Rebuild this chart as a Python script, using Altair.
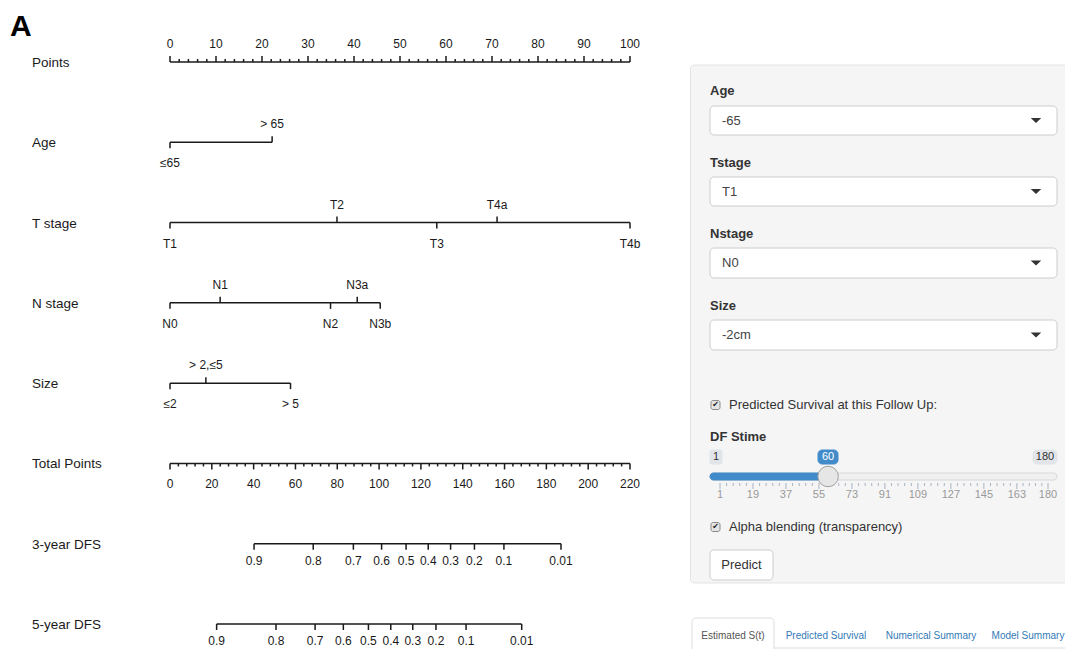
import altair as alt
import pandas as pd

# ---------------- nomogram data ----------------
row_names = ["Points", "Age", "T stage", "N stage", "Size", "Total Points", "3-year DFS", "5-year DFS"]

points_labels = [0, 10, 20, 30, 40, 50, 60, 70, 80, 90, 100]

age_levels = ["≤65", "> 65"]
age_points = [0, 22.2]
t_levels = ["T1", "T2", "T3", "T4a", "T4b"]
t_points = [0, 36.3, 58.0, 71.1, 100]
n_levels = ["N0", "N1", "N2", "N3a", "N3b"]
n_points = [0, 10.9, 34.9, 40.7, 45.7]
size_levels = ["≤2", "> 2,≤5", "> 5"]
size_points = [0, 7.8, 26.2]

total_labels = [0, 20, 40, 60, 80, 100, 120, 140, 160, 180, 200, 220]
total_max = 220

dfs_labels = ["0.9", "0.8", "0.7", "0.6", "0.5", "0.4", "0.3", "0.2", "0.1", "0.01"]
dfs3_total = [40.2, 68.5, 87.7, 101.2, 112.9, 123.5, 134.2, 145.6, 159.7, 187.0]
dfs5_total = [22.3, 50.7, 69.4, 82.9, 94.9, 105.6, 116.1, 127.2, 141.6, 168.2]

# ---------------- UI panel content ----------------
select_labels = ["Age", "Tstage", "Nstage", "Size"]
select_values = ["-65", "T1", "N0", "-2cm"]
checkbox_labels = ["Predicted Survival at this Follow Up:", "Alpha blending (transparency)"]
slider_title = "DF Stime"
slider_min, slider_max, slider_value = 1, 180, 60
slider_grid = [1, 19, 37, 55, 73, 91, 109, 127, 145, 163, 180]
button_label = "Predict"
tab_labels = ["Estimated S(t)", "Predicted Survival", "Numerical Summary", "Model Summary"]
tab_colors = ["#555555", "#337ab7", "#337ab7", "#337ab7"]

FONT = "Liberation Sans"
INK = "#1a1a1a"

# ---------------- build nomogram tables ----------------
lines, ticks, labels = [], [], []

# Points axis (row 0)
lines.append(dict(row=0, x=0, x2=100))
for v in range(0, 101, 2):
    ticks.append(dict(row=0, x=v, side="above", major=(v % 10 == 0)))
for v in points_labels:
    labels.append(dict(row=0, x=v, text=str(v), side="above"))

def add_categorical(row, levels, pts):
    lines.append(dict(row=row, x=min(pts), x2=max(pts)))
    for i, (lv, p) in enumerate(zip(levels, pts)):
        side = "below" if i % 2 == 0 else "above"
        ticks.append(dict(row=row, x=p, side=side, major=True))
        labels.append(dict(row=row, x=p, text=lv, side=side))

add_categorical(1, age_levels, age_points)
add_categorical(2, t_levels, t_points)
add_categorical(3, n_levels, n_points)
add_categorical(4, size_levels, size_points)

# Total points (row 5) mapped onto the 0-100 points scale
k = 100.0 / total_max
lines.append(dict(row=5, x=0, x2=100))
for v in range(0, total_max + 1, 4):
    ticks.append(dict(row=5, x=v * k, side="below", major=(v % 20 == 0)))
for v in total_labels:
    labels.append(dict(row=5, x=v * k, text=str(v), side="below"))

def add_prob(row, labs, tots):
    xs = [t * k for t in tots]
    lines.append(dict(row=row, x=min(xs), x2=max(xs)))
    for lab, x in zip(labs, xs):
        ticks.append(dict(row=row, x=x, side="below", major=True))
        labels.append(dict(row=row, x=x, text=lab, side="prob"))

add_prob(6, dfs_labels, dfs3_total)
add_prob(7, dfs_labels, dfs5_total)

lines_df = pd.DataFrame(lines)
ticks_df = pd.DataFrame(ticks)
labels_df = pd.DataFrame(labels)
rows_df = pd.DataFrame(dict(row=list(range(len(row_names))), name=row_names))

# ---------------- scales ----------------
XN = alt.Scale(domain=[0, 100], range=[162, 622], nice=False, zero=False)
YR = alt.Scale(domain=[0, 7], range=[54, 616], nice=False, zero=False)
XP = alt.Scale(domain=[8, 1065], range=[0, 1057], nice=False, zero=False)
YP = alt.Scale(domain=[8, 649], range=[0, 641], nice=False, zero=False)
XS = alt.Scale(domain=[slider_min, slider_max], range=[712, 1040], nice=False, zero=False)

def xn(f="x"):
    return alt.X(f"{f}:Q", scale=XN, axis=None)

def yr(f="row"):
    return alt.Y(f"{f}:Q", scale=YR, axis=None)

def xp(f="x"):
    return alt.X(f"{f}:Q", scale=XP, axis=None)

def yp(f="y"):
    return alt.Y(f"{f}:Q", scale=YP, axis=None)

def xs(f="v"):
    return alt.X(f"{f}:Q", scale=XS, axis=None)

layers = []

# nomogram axis lines
layers.append(alt.Chart(lines_df).mark_rule(color=INK, strokeWidth=1.5).encode(
    x=xn("x"), x2="x2", y=yr("row")))

# ticks
for side, major, off in [("above", True, -6), ("above", False, -3), ("below", True, 6), ("below", False, 3)]:
    layers.append(alt.Chart(ticks_df).transform_filter(
        f"datum.side == '{side}' && datum.major == {'true' if major else 'false'}"
    ).mark_rule(color=INK, strokeWidth=1.5, y2Offset=off).encode(
        x=xn("x"), y=yr("row"), y2="row"))

# tick labels
for side, dy in [("above", -18), ("below", 21), ("prob", 17)]:
    layers.append(alt.Chart(labels_df).transform_filter(f"datum.side == '{side}'").mark_text(
        font=FONT, fontSize=12, color=INK, dy=dy, baseline="middle", align="center").encode(
        x=xn("x"), y=yr("row"), text="text:N"))

# row names
layers.append(alt.Chart(rows_df).mark_text(
    font=FONT, fontSize=13.5, color=INK, align="left", baseline="middle", dy=1).encode(
    x=alt.value(24), y=yr("row"), text="name:N"))

# panel letter
layers.append(alt.Chart(pd.DataFrame(dict(t=["A"]))).mark_text(
    font=FONT, fontSize=30, fontWeight="bold", color="#000", align="left", baseline="alphabetic").encode(
    x=alt.value(2), y=alt.value(28), text="t:N"))

# ---------------- UI panel layout (page pixel coordinates) ----------------
sel_label_y = [91, 163, 234, 306]
sel_box_y = [(106, 135), (177, 206), (248, 278), (320, 350)]
check_y = [405, 527]

rects = [dict(x=690.5, x2=1090, y=65, y2=583, fill="#f5f5f5", stroke="#e3e3e3")]
for (a, b) in sel_box_y:
    rects.append(dict(x=710, x2=1057, y=a, y2=b, fill="#ffffff", stroke="#cccccc"))
rects += [
    dict(x=1033, x2=1057, y=450, y2=464, fill="#e1e4e9", stroke="#e1e4e9"),
    dict(x=818, x2=838, y=450, y2=464, fill="#428bca", stroke="#428bca"),
    dict(x=710, x2=1057, y=473, y2=480, fill="#f0f0f0", stroke="#d8d8d8"),
    dict(x=710, x2=828, y=473, y2=480, fill="#428bca", stroke="#428bca"),
    dict(x=710, x2=773, y=550, y2=580, fill="#ffffff", stroke="#cccccc"),
    dict(x=692, x2=774, y=618, y2=665, fill="#ffffff", stroke="#dddddd"),
]
rects_df = pd.DataFrame(rects)

layers.append(alt.Chart(rects_df).mark_rect(cornerRadius=4, strokeWidth=1, clip=True).encode(
    x=xp("x"), x2="x2", y=yp("y"), y2="y2",
    fill=alt.Fill("fill:N", scale=None), stroke=alt.Stroke("stroke:N", scale=None)))

# small boxes: slider min label box and checkboxes
small_rects = [dict(x=710, x2=722, y=450, y2=464, fill="#e1e4e9", stroke="#e1e4e9")]
for cy in check_y:
    small_rects.append(dict(x=711, x2=720, y=cy - 4.5, y2=cy + 4.5, fill="#e4e4e4", stroke="#8a8a8a"))
layers.append(alt.Chart(pd.DataFrame(small_rects)).mark_rect(cornerRadius=2, strokeWidth=1).encode(
    x=xp("x"), x2="x2", y=yp("y"), y2="y2",
    fill=alt.Fill("fill:N", scale=None), stroke=alt.Stroke("stroke:N", scale=None)))

# tab bar bottom line
layers.append(alt.Chart(pd.DataFrame(dict(x=[774], x2=[1065], y=[648]))).mark_rule(
    color="#dddddd", strokeWidth=1).encode(x=xp("x"), x2="x2", y=yp("y")))

# bold labels
bold_df = pd.DataFrame(dict(x=[710] * 5, y=sel_label_y + [437], t=select_labels + [slider_title]))
layers.append(alt.Chart(bold_df).mark_text(
    font=FONT, fontSize=13, fontWeight="bold", color="#333333", align="left", baseline="middle").encode(
    x=xp("x"), y=yp("y"), text="t:N"))

# select values
val_df = pd.DataFrame(dict(x=[722] * 4, y=[(a + b) / 2 for a, b in sel_box_y], t=select_values))
layers.append(alt.Chart(val_df).mark_text(
    font=FONT, fontSize=13, color="#444444", align="left", baseline="middle").encode(
    x=xp("x"), y=yp("y"), text="t:N"))

# carets
caret_df = pd.DataFrame(dict(x=[1036] * 4, y=[(a + b) / 2 for a, b in sel_box_y]))
layers.append(alt.Chart(caret_df).mark_point(
    shape="M-1,-0.5L1,-0.5L0,0.5Z", filled=True, size=110, color="#333333", opacity=1).encode(
    x=xp("x"), y=yp("y")))

# checkbox labels and check marks
cb_df = pd.DataFrame(dict(x=[729, 729], y=check_y, t=checkbox_labels))
layers.append(alt.Chart(cb_df).mark_text(
    font=FONT, fontSize=13, color="#333333", align="left", baseline="middle").encode(
    x=xp("x"), y=yp("y"), text="t:N"))
chk_df = pd.DataFrame(dict(x=[715.5, 715.5], y=check_y, t=["✔", "✔"]))
layers.append(alt.Chart(chk_df).mark_text(
    font="DejaVu Sans", fontSize=8, color="#222222", align="center", baseline="middle").encode(
    x=xp("x"), y=yp("y"), text="t:N"))

# slider min / max / value boxes text
sl_df = pd.DataFrame(dict(x=[716, 1045, 828], y=[457, 457, 457],
                          t=[str(slider_min), str(slider_max), str(slider_value)],
                          c=["#333333", "#333333", "#ffffff"]))
layers.append(alt.Chart(sl_df).mark_text(
    font=FONT, fontSize=11, align="center", baseline="middle").encode(
    x=xp("x"), y=yp("y"), text="t:N", color=alt.Color("c:N", scale=None)))

# slider grid ticks
grid_major = pd.DataFrame(dict(v=slider_grid, y=[483] * len(slider_grid), y2=[489] * len(slider_grid)))
minor_vals = []
for a, b in zip(slider_grid[:-1], slider_grid[1:]):
    for j in range(1, 5):
        minor_vals.append(a + (b - a) * j / 5)
grid_minor = pd.DataFrame(dict(v=minor_vals, y=[483] * len(minor_vals), y2=[486] * len(minor_vals)))
for gdf in (grid_major, grid_minor):
    layers.append(alt.Chart(gdf).mark_rule(color="#a8b4c4", strokeWidth=1).encode(
        x=xs("v"), y=yp("y"), y2="y2"))
grid_lab = pd.DataFrame(dict(v=slider_grid, y=[495] * len(slider_grid), t=[str(g) for g in slider_grid]))
layers.append(alt.Chart(grid_lab).mark_text(
    font=FONT, fontSize=11, color="#999999", align="center", baseline="middle").encode(
    x=xs("v"), y=yp("y"), text="t:N"))

# slider handle
handle_df = pd.DataFrame(dict(v=[slider_value], y=[476.5]))
layers.append(alt.Chart(handle_df).mark_point(
    shape="circle", filled=True, size=420, fill="#e6e6e6", stroke="#a0a0a0", strokeWidth=1, opacity=1).encode(
    x=xs("v"), y=yp("y")))

# button
btn_df = pd.DataFrame(dict(x=[741.5], y=[565], t=[button_label]))
layers.append(alt.Chart(btn_df).mark_text(
    font=FONT, fontSize=13, color="#333333", align="center", baseline="middle").encode(
    x=xp("x"), y=yp("y"), text="t:N"))

# tabs
tab_df = pd.DataFrame(dict(x=[733, 826, 931, 1028], y=[636] * 4, t=tab_labels, c=tab_colors))
layers.append(alt.Chart(tab_df).mark_text(
    font=FONT, fontSize=10, align="center", baseline="middle").encode(
    x=xp("x"), y=yp("y"), text="t:N", color=alt.Color("c:N", scale=None)))

chart = alt.layer(*layers).resolve_scale(x="independent", y="independent").properties(
    width=1057, height=641, padding=0, background="white",
    autosize=alt.AutoSizeParams(type="none"),
).configure_view(stroke=None)

chart.save("out.html", embed_options={"renderer": "svg", "actions": False})
